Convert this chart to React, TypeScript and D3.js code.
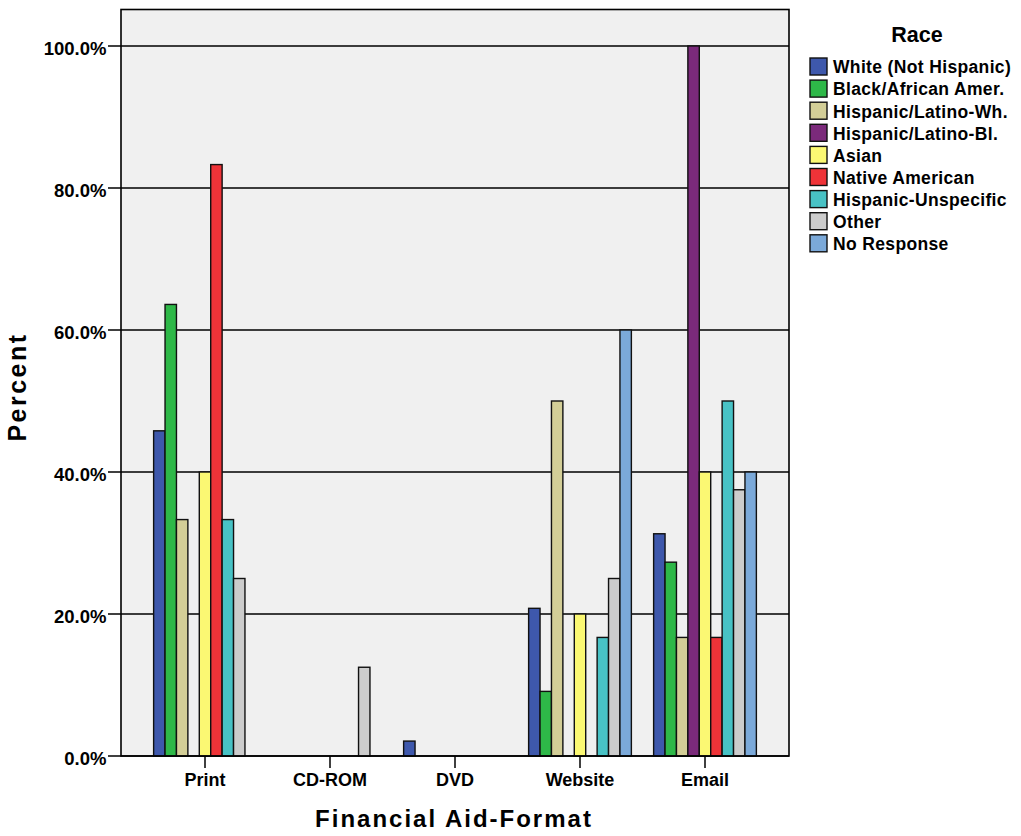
import React from "react";
import * as d3 from "d3";

const categories = ["Print", "CD-ROM", "DVD", "Website", "Email"];
const races = [
  "White (Not Hispanic)",
  "Black/African Amer.",
  "Hispanic/Latino-Wh.",
  "Hispanic/Latino-Bl.",
  "Asian",
  "Native American",
  "Hispanic-Unspecific",
  "Other",
  "No Response",
];
const colors = ["#3e58ac", "#2eb848", "#d3ce97", "#7b2a7b", "#fbf873", "#ef3338", "#48c2c5", "#cccccc", "#7ba9d9"];

// values per race, across categories
const whiteVals = [45.8, 0, 2.1, 20.8, 31.3];
const blackVals = [63.6, 0, 0, 9.1, 27.3];
const hispWhVals = [33.3, 0, 0, 50.0, 16.7];
const hispBlVals = [0, 0, 0, 0, 100.0];
const asianVals = [40.0, 0, 0, 20.0, 40.0];
const nativeVals = [83.3, 0, 0, 0, 16.7];
const hispUnVals = [33.3, 0, 0, 16.7, 50.0];
const otherVals = [25.0, 12.5, 0, 25.0, 37.5];
const noRespVals = [0, 0, 0, 60.0, 40.0];
const series = [whiteVals, blackVals, hispWhVals, hispBlVals, asianVals, nativeVals, hispUnVals, otherVals, noRespVals];

const yTicks = [0, 20, 40, 60, 80, 100];

export default function App() {
  const W = 1021, H = 836;
  const left = 121, right = 789, top = 9.5, bottom = 756;
  const x = d3.scaleBand<string>().domain(categories).range([left, right]).paddingInner(0).paddingOuter(0.172);
  const y = d3.scaleLinear().domain([0, 100]).range([bottom, 46]);
  const groupW = x.step() * 0.822;
  const xi = d3.scaleBand<number>().domain(d3.range(races.length)).range([0, groupW]);
  const font = "'Liberation Sans', Arial, sans-serif";

  return (
    <svg width={W} height={H} style={{ position: "absolute", left: 0, top: 0, fontFamily: font }}>
      <rect x={left} y={top} width={right - left} height={bottom - top} fill="#f0f0f0" />
      {yTicks.map((t) => (
        <g key={t}>
          <line x1={left} x2={right} y1={y(t)} y2={y(t)} stroke="#000" strokeWidth={1.3} />
          <line x1={108} x2={left} y1={y(t)} y2={y(t)} stroke="#000" strokeWidth={1.5} />
          <text x={106.5} y={y(t) + 9} textAnchor="end" fontSize={18.5} fontWeight="bold">
            {t.toFixed(1) + "%"}
          </text>
        </g>
      ))}
      {series.map((vals, si) =>
        categories.map((c, ci) =>
          vals[ci] > 0 ? (
            <rect
              key={si + "-" + ci}
              x={(x(c) as number) + x.bandwidth() / 2 - groupW / 2 + (xi(si) as number)}
              y={y(vals[ci])}
              width={xi.bandwidth()}
              height={bottom - y(vals[ci])}
              fill={colors[si]}
              stroke="#111"
              strokeWidth={1.4}
            />
          ) : null
        )
      )}
      <rect x={left} y={top} width={right - left} height={bottom - top} fill="none" stroke="#000" strokeWidth={1.6} />
      {categories.map((c) => {
        const cx = (x(c) as number) + x.bandwidth() / 2;
        return (
          <g key={c}>
            <line x1={cx} x2={cx} y1={bottom} y2={bottom + 12} stroke="#000" strokeWidth={1.5} />
            <text x={cx} y={786} textAnchor="middle" fontSize={18} fontWeight="bold">{c}</text>
          </g>
        );
      })}
      <text x={454} y={827} textAnchor="middle" fontSize={24} fontWeight="bold" letterSpacing={2}>Financial Aid-Format</text>
      <text transform={`translate(26,387) rotate(-90)`} textAnchor="middle" fontSize={25} fontWeight="bold" letterSpacing={2.5}>Percent</text>
      <text x={917} y={41.5} textAnchor="middle" fontSize={21.5} fontWeight="bold">Race</text>
      {races.map((r, i) => (
        <g key={r} transform={`translate(810,${58 + i * 22.1})`}>
          <rect x={0} y={0} width={17} height={17} fill={colors[i]} stroke="#111" strokeWidth={1.4} />
          <text x={23} y={15.3} fontSize={17.5} fontWeight="bold" letterSpacing={0.35}>{r}</text>
        </g>
      ))}
    </svg>
  );
}
